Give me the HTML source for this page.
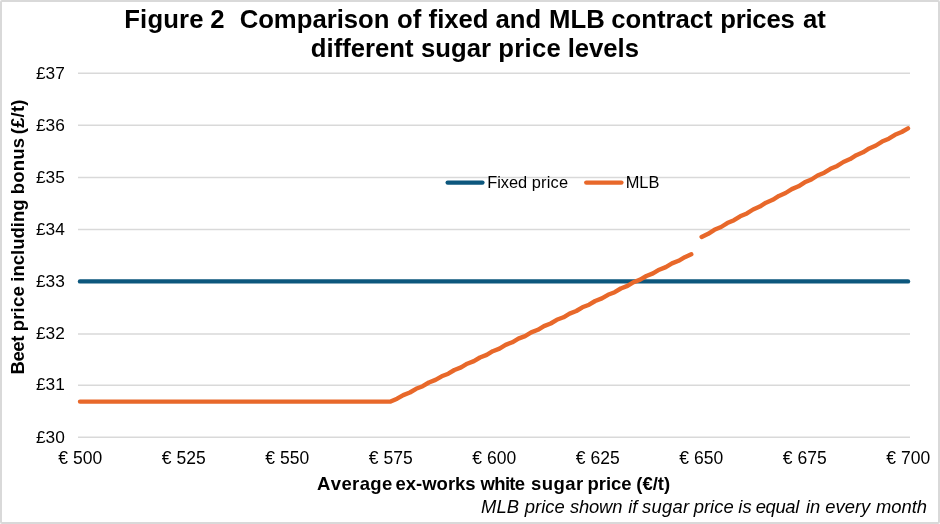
<!DOCTYPE html>
<html>
<head>
<meta charset="utf-8">
<title>Figure 2 Comparison of fixed and MLB contract prices at different sugar price levels</title>
<style>
html,body{margin:0;padding:0;background:#fff;}
body{width:940px;height:524px;overflow:hidden;position:relative;font-family:"Liberation Sans",Arial,sans-serif;color:#000;}
#frame{position:absolute;left:0;top:0;width:936px;height:520px;border:2px solid #d9d9d9;border-radius:2px;background:#fff;}
svg{position:absolute;left:0;top:0;font-family:"Liberation Sans",Arial,sans-serif;font-kerning:none;fill:#000;}
text{white-space:pre;}
.title{font-weight:bold;font-size:25.7px;}
.yl{font-size:17.3px;}
.xl{font-size:17.5px;}
.lg{font-size:16.4px;}
.at{font-size:18.5px;font-weight:bold;}
.fn{font-size:18.4px;font-style:italic;}
</style>
</head>
<body>
<div id="frame"></div>
<svg width="940" height="524" viewBox="0 0 940 524">
  <g id="grid" stroke="#d9d9d9" stroke-width="1.5" fill="none">
    <line x1="78" y1="73.3" x2="910" y2="73.3"/>
    <line x1="78" y1="125.3" x2="910" y2="125.3"/>
    <line x1="78" y1="177.5" x2="910" y2="177.5"/>
    <line x1="78" y1="229.6" x2="910" y2="229.6"/>
    <line x1="78" y1="281.7" x2="910" y2="281.7"/>
    <line x1="78" y1="333.9" x2="910" y2="333.9"/>
    <line x1="78" y1="385.2" x2="910" y2="385.2"/>
    <line x1="78" y1="437.3" x2="910" y2="437.3"/>
  </g>
  <g id="series" fill="none" stroke-width="4.4" stroke-linecap="round" stroke-linejoin="round">
    <line x1="80" y1="281.4" x2="908" y2="281.4" stroke="#0c577d"/>
    <polyline points="80,401.6 390.6,401.6 397.1,398.7 403.3,395.1 409.9,392.5 416.1,388.8 422.7,386.2 428.9,382.5 435.5,379.9 441.7,376.3 448.3,373.7 454.4,370.0 461.1,367.4 467.2,363.7 473.9,361.1 480.0,357.5 486.7,354.9 492.8,351.2 499.5,348.6 505.6,344.9 512.3,342.3 518.4,338.6 525.1,336.1 531.2,332.4 537.9,329.8 544.0,326.1 550.7,323.5 556.8,319.8 563.5,317.3 569.6,313.6 576.3,311.0 582.4,307.3 589.1,304.7 595.2,301.0 601.9,298.4 608.0,294.8 614.7,292.2 620.8,288.5 627.5,285.9 633.6,282.2 640.2,279.6 646.4,276.0 653.0,273.4 659.2,269.7 665.8,267.1 672.0,263.4 678.6,260.8 684.8,257.2 691.3,254.3" stroke="#e8682a"/>
    <polyline points="701.6,236.9 708.2,233.8 714.4,229.8 721.1,227.0 727.3,223.1 734.0,220.2 740.2,216.3 746.9,213.4 753.1,209.5 759.8,206.6 766.0,202.7 772.7,199.8 778.9,195.9 785.6,193.0 791.8,189.1 798.5,186.3 804.7,182.3 811.4,179.5 817.6,175.5 824.3,172.7 830.5,168.8 837.2,165.9 843.4,162.0 850.1,159.1 856.3,155.2 863.0,152.3 869.2,148.4 875.9,145.5 882.1,141.6 888.8,138.7 895.0,134.8 901.7,132.0 908.0,128.3" stroke="#e8682a"/>
    <line x1="447.7" y1="182.6" x2="482.4" y2="182.6" stroke="#0c577d"/>
    <line x1="586.3" y1="182.6" x2="621.4" y2="182.6" stroke="#e8682a"/>
  </g>
  <text class="title" y="27.6"><tspan x="124.29" letter-spacing="0.15">Figure</tspan> <tspan x="210.29">2</tspan>  <tspan x="239.63">Comparison</tspan> <tspan x="397.02">of</tspan> <tspan x="428.58">fixed</tspan> <tspan x="495.58">and</tspan> <tspan x="549.09">MLB</tspan> <tspan x="611.25">contract</tspan> <tspan x="720.24" letter-spacing="-0.23">prices</tspan> <tspan x="802.94">at</tspan></text>
  <text class="title" y="57.2"><tspan x="310.86">different</tspan> <tspan x="421.00">sugar</tspan> <tspan x="498.15" letter-spacing="0.34">price</tspan> <tspan x="567.64">levels</tspan></text>
  <text class="at" y="490.4"><tspan x="317.08" letter-spacing="0.36">Average</tspan> <tspan x="395.46">ex-works</tspan> <tspan x="480.62" letter-spacing="-0.69">white</tspan> <tspan x="530.94" letter-spacing="0.46">sugar</tspan> <tspan x="587.39">price</tspan> <tspan x="636.22">(€/t)</tspan></text>
  <text class="fn" y="513"><tspan x="481.11">MLB</tspan> <tspan x="524.83">price</tspan> <tspan x="569.93" letter-spacing="-0.17">shown</tspan> <tspan x="628.13">if</tspan> <tspan x="642.07" letter-spacing="0.28">sugar</tspan> <tspan x="693.77">price</tspan> <tspan x="738.33">is</tspan> <tspan x="755.68" letter-spacing="-0.36">equal</tspan> <tspan x="806.02">in</tspan> <tspan x="825.35">every</tspan> <tspan x="875.96">month</tspan></text>
  <text class="at" transform="translate(24,373.5) rotate(-90)" y="0"><tspan x="-1.07" letter-spacing="-0.40">Beet</tspan> <tspan x="42.21" letter-spacing="0.21">price</tspan> <tspan x="91.81">including</tspan> <tspan x="179.35" letter-spacing="0.20">bonus</tspan> <tspan x="239.35" letter-spacing="0.15">(£/t)</tspan></text>
  <text class="lg" y="188"><tspan x="487.14">Fixed</tspan> <tspan x="531.84" letter-spacing="0.18">price</tspan></text>
  <text class="lg" y="188"><tspan x="625.64">MLB</tspan></text>
  <text class="yl" y="78.5"><tspan x="35.92">£37</tspan></text>
  <text class="yl" y="130.5"><tspan x="35.92">£36</tspan></text>
  <text class="yl" y="182.7"><tspan x="35.92">£35</tspan></text>
  <text class="yl" y="234.8"><tspan x="35.92">£34</tspan></text>
  <text class="yl" y="286.9"><tspan x="35.92">£33</tspan></text>
  <text class="yl" y="339.1"><tspan x="35.92">£32</tspan></text>
  <text class="yl" y="390.4"><tspan x="35.92">£31</tspan></text>
  <text class="yl" y="442.5"><tspan x="35.92">£30</tspan></text>
  <text class="xl" y="463.6"><tspan x="58.37">€ 500</tspan></text>
  <text class="xl" y="463.6"><tspan x="161.87">€ 525</tspan></text>
  <text class="xl" y="463.6"><tspan x="265.37">€ 550</tspan></text>
  <text class="xl" y="463.6"><tspan x="368.87">€ 575</tspan></text>
  <text class="xl" y="463.6"><tspan x="472.37">€ 600</tspan></text>
  <text class="xl" y="463.6"><tspan x="575.87">€ 625</tspan></text>
  <text class="xl" y="463.6"><tspan x="679.37">€ 650</tspan></text>
  <text class="xl" y="463.6"><tspan x="782.87">€ 675</tspan></text>
  <text class="xl" y="463.6"><tspan x="886.37">€ 700</tspan></text>
</svg>
</body>
</html>
